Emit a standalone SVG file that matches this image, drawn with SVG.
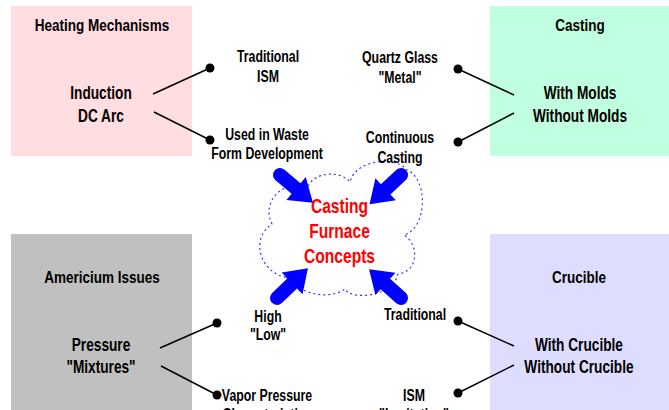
<svg xmlns="http://www.w3.org/2000/svg" width="669" height="410" viewBox="0 0 669 410">
<style>
text{font-family:"Liberation Sans",Arial,sans-serif;font-weight:bold;text-anchor:middle;fill:#000}
.h{font-size:16px}
.m{font-size:18px}
.s{font-size:16px}
.c{font-size:20px;fill:#FF0000}
.ln{stroke:#000;stroke-width:1.5;fill:none}
.dot{fill:#000}
.arr{fill:#0000FF}
</style>
<defs>
<path id="arrow" d="M0,-7 L21,-7 L21,-15 L43,0 L21,15 L21,7 L0,7 A7,7 0 0 1 0,-7 Z"/>
</defs>
<rect width="669" height="410" fill="#fff"/>

<g id="heating">
<rect x="11" y="6" width="181" height="150" fill="#FFDDE0"/>
<text class="h" transform="scale(0.845,1)" x="120.7" y="31">Heating Mechanisms</text>
<text class="m" transform="scale(0.76,1)" x="132.9" y="99">Induction</text>
<text class="m" transform="scale(0.76,1)" x="132.9" y="122">DC Arc</text>
</g>
<g id="casting">
<rect x="490" y="6" width="179" height="150" fill="#C0FFE0"/>
<text class="h" transform="scale(0.845,1)" x="686.4" y="31">Casting</text>
<text class="m" transform="scale(0.76,1)" x="763.2" y="99">With Molds</text>
<text class="m" transform="scale(0.76,1)" x="763.2" y="122">Without Molds</text>
</g>
<g id="americium">
<rect x="11" y="234" width="181" height="176" fill="#C0C0C0"/>
<text class="h" transform="scale(0.845,1)" x="120.7" y="283">Americium Issues</text>
<text class="m" transform="scale(0.76,1)" x="132.9" y="351">Pressure</text>
<text class="m" transform="scale(0.76,1)" x="132.9" y="373">"Mixtures"</text>
</g>
<g id="crucible">
<rect x="490" y="234" width="179" height="176" fill="#DDDDFF"/>
<text class="h" transform="scale(0.845,1)" x="685.2" y="283">Crucible</text>
<text class="m" transform="scale(0.76,1)" x="761.8" y="351">With Crucible</text>
<text class="m" transform="scale(0.76,1)" x="761.8" y="373">Without Crucible</text>
</g>

<g id="concepts">
<path d="M308,186 C315,172 340,170 350,182 C355,160 395,155 407,170 C428,178 428,228 404,235 C420,245 418,272 398,274 C392,298 350,300 345,289 C330,300 300,295 290,278 C262,276 248,240 272,224 C262,205 278,180 308,186 Z" fill="none" stroke="#3333FF" stroke-width="1.2" stroke-dasharray="2,3"/>
<text class="c" transform="scale(0.78,1)" x="435.3" y="213">Casting</text>
<text class="c" transform="scale(0.78,1)" x="435.3" y="238">Furnace</text>
<text class="c" transform="scale(0.78,1)" x="435.3" y="263">Concepts</text>
</g>

<g id="label-traditional-ism">
<text class="s" transform="scale(0.77,1)" x="348.1" y="62">Traditional</text>
<text class="s" transform="scale(0.77,1)" x="348.1" y="82">ISM</text>
</g>
<g id="label-waste">
<text class="s" transform="scale(0.77,1)" x="346.8" y="140">Used in Waste</text>
<text class="s" transform="scale(0.77,1)" x="346.8" y="159">Form Development</text>
</g>
<g id="label-quartz">
<text class="s" transform="scale(0.77,1)" x="519.5" y="63">Quartz Glass</text>
<text class="s" transform="scale(0.77,1)" x="519.5" y="83">"Metal"</text>
</g>
<g id="label-continuous">
<text class="s" transform="scale(0.77,1)" x="519.5" y="143">Continuous</text>
<text class="s" transform="scale(0.77,1)" x="519.5" y="163">Casting</text>
</g>
<g id="label-high">
<text class="s" transform="scale(0.77,1)" x="348.1" y="322">High</text>
<text class="s" transform="scale(0.77,1)" x="348.1" y="340">"Low"</text>
</g>
<g id="label-vapor">
<text class="s" transform="scale(0.77,1)" x="346.8" y="401">Vapor Pressure</text>
<text class="s" transform="scale(0.77,1)" x="346.8" y="420">Characteristics</text>
</g>
<g id="label-traditional">
<text class="s" transform="scale(0.77,1)" x="539" y="320">Traditional</text>
</g>
<g id="label-ism">
<text class="s" transform="scale(0.77,1)" x="537.7" y="401">ISM</text>
<text class="s" transform="scale(0.77,1)" x="537.7" y="420">"Levitation"</text>
</g>

<g id="connectors">
<line class="ln" x1="153" y1="94" x2="210" y2="68"/>
<circle class="dot" cx="210" cy="68" r="4.5"/>
<line class="ln" x1="154" y1="112" x2="210" y2="140"/>
<circle class="dot" cx="210" cy="140" r="4.5"/>
<line class="ln" x1="514" y1="95" x2="458" y2="69"/>
<circle class="dot" cx="458" cy="69" r="4.5"/>
<line class="ln" x1="514" y1="113" x2="458" y2="142"/>
<circle class="dot" cx="458" cy="142" r="4.5"/>
<line class="ln" x1="160" y1="348" x2="217" y2="323"/>
<circle class="dot" cx="217" cy="323" r="4.5"/>
<line class="ln" x1="161" y1="366" x2="217" y2="395"/>
<circle class="dot" cx="217" cy="395" r="4.5"/>
<line class="ln" x1="514" y1="346" x2="458" y2="321"/>
<circle class="dot" cx="458" cy="321" r="4.5"/>
<line class="ln" x1="514" y1="365" x2="458" y2="393"/>
<circle class="dot" cx="458" cy="393" r="4.5"/>
<use href="#arrow" class="arr" transform="translate(280,175) rotate(40)"/>
<use href="#arrow" class="arr" transform="translate(401,175) rotate(137)"/>
<use href="#arrow" class="arr" transform="translate(277,298) rotate(-44)"/>
<use href="#arrow" class="arr" transform="translate(401,298) rotate(-138)"/>
</g>
</svg>
